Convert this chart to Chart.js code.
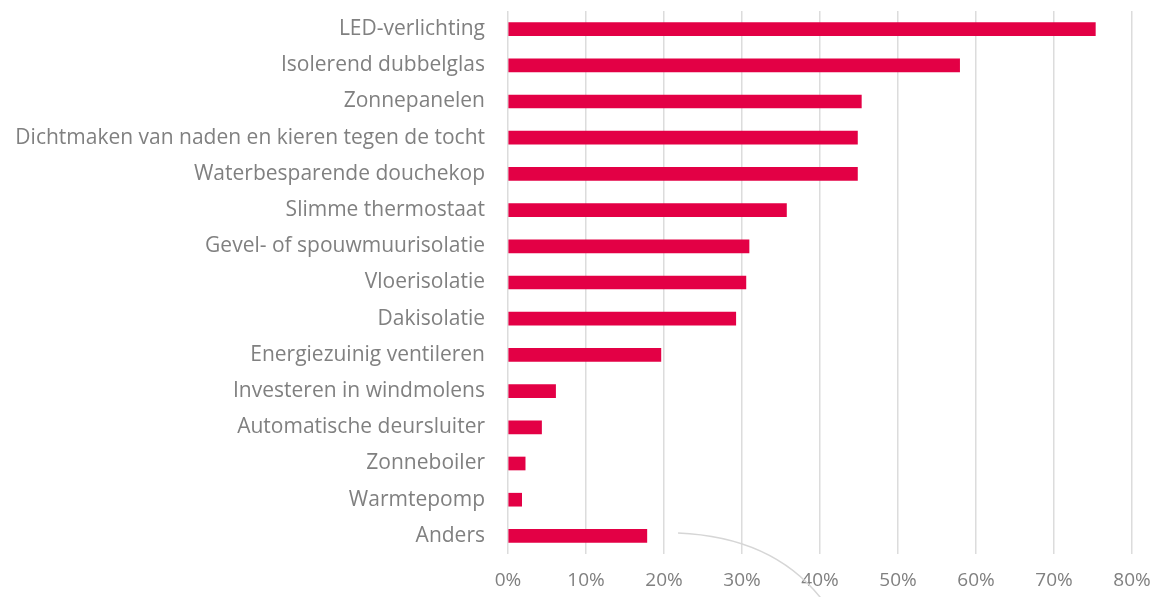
<!DOCTYPE html>
<html><head><meta charset="utf-8">
<script src="https://cdn.jsdelivr.net/npm/chart.js@4/dist/chart.umd.min.js"></script>
<style>html,body{margin:0;padding:0;background:#fff}#wrap{width:1158px;height:597px}</style>
</head><body><div id="wrap"><canvas id="c" width="1158" height="597"></canvas></div>
<script>
const categories = ["LED-verlichting","Isolerend dubbelglas","Zonnepanelen","Dichtmaken van naden en kieren tegen de tocht","Waterbesparende douchekop","Slimme thermostaat","Gevel- of spouwmuurisolatie","Vloerisolatie","Dakisolatie","Energiezuinig ventileren","Investeren in windmolens","Automatische deursluiter","Zonneboiler","Warmtepomp","Anders"];
const values = [75.3,57.9,45.3,44.8,44.8,35.7,30.9,30.5,29.2,19.6,6.1,4.3,2.2,1.75,17.8];
const xTicks = [0,10,20,30,40,50,60,70,80];

const curvePlugin = {
  id:'curve',
  afterDraw(chart){
    const x = chart.scales.x, y = chart.scales.y, ctx = chart.ctx;
    const sx = x.getPixelForValue(21.8), sy = y.getPixelForValue(categories.length-1) - 3;
    const ex = x.getPixelForValue(40.2), ey = chart.height + 2;
    const cx = x.getPixelForValue(34), cy = sy + 4;
    ctx.save();
    ctx.strokeStyle = '#d6d6d6'; ctx.lineWidth = 1.5;
    ctx.beginPath(); ctx.moveTo(sx,sy); ctx.quadraticCurveTo(cx,cy,ex,ey); ctx.stroke();
    ctx.restore();
  }
};

new Chart(document.getElementById('c'), {
  type:'bar',
  data:{labels:categories, datasets:[{data:values, backgroundColor:'#e30045', barThickness:13}]},
  options:{
    indexAxis:'y', responsive:false, animation:false,
    layout:{padding:{top:11,right:26,left:0,bottom:0}},
    plugins:{legend:{display:false}, tooltip:{enabled:false}},
    scales:{
      x:{min:0,max:80,
        afterBuildTicks(s){s.ticks = xTicks.map(v=>({value:v}));},
        afterFit(s){s.height = 43; s.paddingLeft = 0; s.paddingRight = 0;},
        grid:{color:'#dcdcdc', lineWidth:1.5, drawTicks:false},
        border:{display:false},
        ticks:{padding:15, color:'#808080', font:{family:'Open Sans', size:19}, callback:v=>v+'%'}},
      y:{
        afterFit(s){s.width = 508; s.paddingTop = 0; s.paddingBottom = 0;},
        grid:{display:false, drawTicks:false}, border:{display:false},
        ticks:{padding:23, color:'#808080', font:{family:'Open Sans', size:21}}}
    }
  },
  plugins:[curvePlugin]
});
</script></body></html>
